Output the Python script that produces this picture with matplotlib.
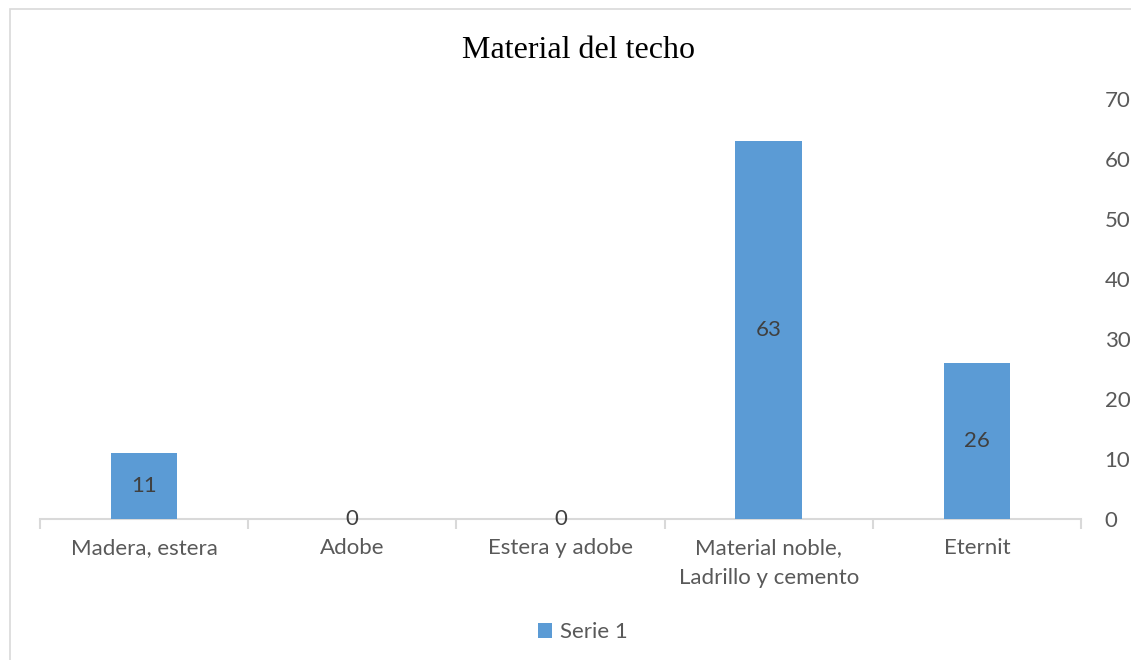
import matplotlib
matplotlib.use("Agg")
import matplotlib.pyplot as plt
from matplotlib.patches import Rectangle, Patch

categories = ["Madera, estera", "Adobe", "Estera y adobe",
              "Material noble,\nLadrillo y cemento", "Eternit"]
values = [11, 0, 0, 63, 26]
yticks = [0, 10, 20, 30, 40, 50, 60, 70]
title = "Material del techo"
series_name = "Serie 1"

W, H = 1131, 660
fig = plt.figure(figsize=(W / 100, H / 100), dpi=100)
fig.patch.set_facecolor("white")

# outer frame (cut off at right and bottom, as in the reference)
fig.add_artist(Rectangle((10 / W, -0.2), 1.2, 1.2 - 9 / H, transform=fig.transFigure,
                         fill=False, edgecolor="#d9d9d9", linewidth=1.2))

left, right = 40 / W, 1081 / W
bottom, top = 1 - 519 / H, 1 - 99 / H
ax = fig.add_axes([left, bottom, right - left, top - bottom])

bar_color = "#5b9bd5"
txt = "#595959"
font = "Lato"
fs = 16
x = list(range(len(categories)))
ax.bar(x, values, width=0.32, color=bar_color, zorder=2)
ax.set_xlim(-0.5, len(categories) - 0.5)
ax.set_ylim(0, 70)

for xi, v in zip(x, values):
    ax.text(xi, v / 2, str(v), ha="center", va="center", fontsize=fs,
            color="#404040", family=font, zorder=3)

for s in ["top", "left", "right"]:
    ax.spines[s].set_visible(False)
ax.spines["bottom"].set_color("#d9d9d9")
ax.spines["bottom"].set_linewidth(1.5)
ax.spines["bottom"].set_zorder(1)

ax.set_xticks(x)
ax.set_xticklabels(categories, fontsize=fs, color=txt, family=font,
                   linespacing=1.6)
ax.tick_params(axis="x", length=0, pad=14)
# category boundary ticks
ax.set_xticks([i - 0.5 for i in range(len(categories) + 1)], minor=True)
ax.tick_params(axis="x", which="minor", length=7, width=1.5, color="#d9d9d9")

ax.yaxis.tick_right()
ax.set_yticks(yticks)
ax.set_yticklabels([str(t) for t in yticks], fontsize=fs, color=txt, family=font)
ax.tick_params(axis="y", length=0, pad=17)
for lbl in ax.get_yticklabels():
    lbl.set_horizontalalignment("left")

fig.text(578 / W, 1 - 50 / H, title, ha="center", va="center",
         fontsize=23, family="Liberation Serif", color="black")

handles = [Patch(facecolor=bar_color, edgecolor="none", label=series_name)]
fig.legend(handles=handles, loc="center", bbox_to_anchor=(583 / W, 1 - 632 / H),
           frameon=False, handlelength=0.65, handleheight=0.65,
           handletextpad=0.35, prop={"family": font, "size": fs},
           labelcolor=txt)

fig.savefig("out.png", dpi=100, facecolor="white")
